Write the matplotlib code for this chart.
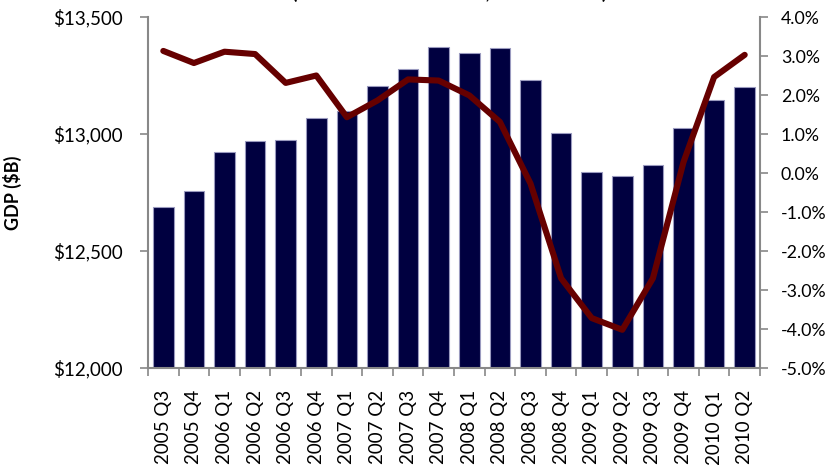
import matplotlib
matplotlib.use("Agg")
import matplotlib.pyplot as plt
import numpy as np

quarters = ["2005 Q3", "2005 Q4", "2006 Q1", "2006 Q2", "2006 Q3", "2006 Q4",
            "2007 Q1", "2007 Q2", "2007 Q3", "2007 Q4", "2008 Q1", "2008 Q2",
            "2008 Q3", "2008 Q4", "2009 Q1", "2009 Q2", "2009 Q3", "2009 Q4",
            "2010 Q1", "2010 Q2"]
gdp = [12690, 12757, 12925, 12969, 12975, 13068, 13097, 13203, 13277, 13371,
       13347, 13367, 13232, 13003, 12838, 12820, 12868, 13027, 13146, 13199]
growth = [3.13, 2.82, 3.11, 3.05, 2.31, 2.50, 1.43, 1.86, 2.40, 2.37,
          1.99, 1.31, -0.27, -2.70, -3.72, -4.02, -2.70, 0.28, 2.46, 3.03]

plt.rcParams['font.family'] = ['Lato', 'DejaVu Sans']

fig = plt.figure(figsize=(8.31, 4.65), dpi=100)
ax = fig.add_axes([148/831, 1-368/465, (760-148)/831, (368-17)/465])
x = np.arange(len(quarters))
ax.bar(x, gdp, width=0.667, color="#000040", edgecolor="#9a9abf", linewidth=0.8, zorder=2)
ax.set_ylim(12000, 13500)
ax.set_xlim(-0.5, len(quarters)-0.5)
ax.set_yticks([12000, 12500, 13000, 13500])
ax.set_yticklabels(["$12,000", "$12,500", "$13,000", "$13,500"], fontsize=13.5)
ax.set_xticks(x)
ax.set_xticklabels(quarters, rotation=90, fontsize=13.5)
ax.tick_params(axis='x', length=0, pad=16)
ax.set_xticks(np.arange(-0.5, len(quarters), 1.0), minor=True)
ax.tick_params(axis='x', which='minor', length=6, color="#888888", width=1.2, direction='out')
ax.tick_params(axis='y', length=6, color="#888888", width=1.2, pad=12)
for s in ['top', 'right']:
    ax.spines[s].set_visible(False)
for s in ['left', 'bottom']:
    ax.spines[s].set_color("#888888")
    ax.spines[s].set_linewidth(1.5)
ax.set_ylabel("GDP ($B)", fontsize=13, fontweight='bold')
ax.yaxis.set_label_coords(-(148-22)/612, 0.5)

ax2 = ax.twinx()
ax2.plot(x, growth, color="#660000", linewidth=4.4, solid_capstyle='round',
         solid_joinstyle='round', zorder=3)
ax2.set_ylim(-5.0, 4.0)
ax2.set_yticks(np.arange(-5, 4.01, 1.0))
ax2.set_yticklabels([f"{v:.1f}%" for v in np.arange(-5, 4.01, 1.0)], fontsize=12.8)
ax2.tick_params(axis='y', length=6, color="#888888", width=1.2, pad=9)
for s in ['top', 'left', 'bottom']:
    ax2.spines[s].set_visible(False)
ax2.spines['right'].set_color("#888888")
ax2.spines['right'].set_linewidth(1.5)

fig.text(450/831, 1 + 1/465, "(Chained 2005 Dollars, Annual Rate)", ha='center', va='baseline',
         fontsize=14, fontweight='bold')

fig.savefig("out.png", dpi=100)
